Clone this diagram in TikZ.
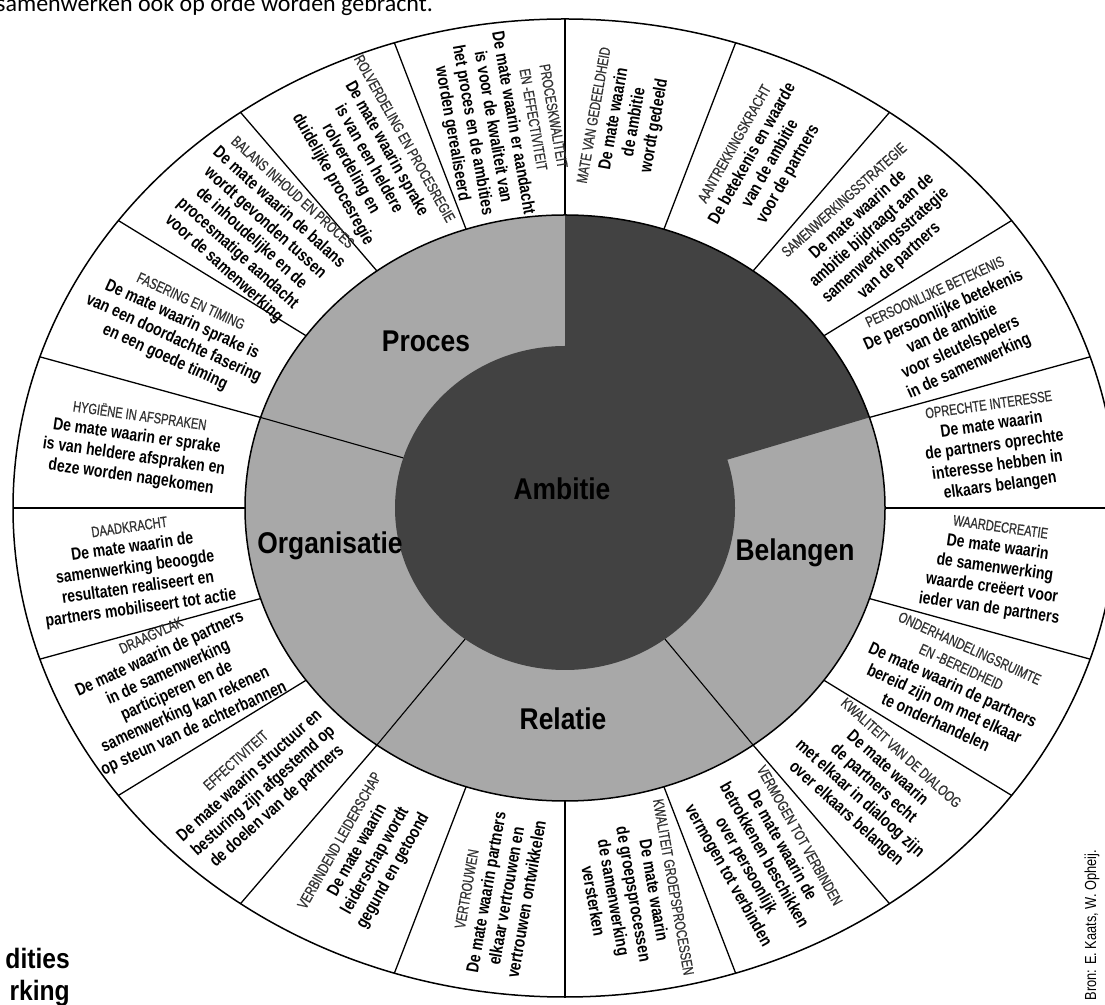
\documentclass[tikz,border=0pt]{standalone}
\usepackage{fontspec}
\setmainfont{Liberation Sans}
\newfontfamily\bodyf{Liberation Sans}[FakeStretch=0.80]
\newfontfamily\headf{Liberation Sans}[FakeStretch=0.74,FakeBold=0.7]
\newfontfamily\bigf{Liberation Sans}[FakeStretch=0.88]
\newfontfamily\carl{Carlito}
\definecolor{darkgrey}{gray}{0.26}
\definecolor{midgrey}{gray}{0.66}
\newcommand\hd[1]{{\headf\mdseries\fontsize{15}{20.5}\selectfont\color{black!80}#1}}
\begin{document}
\begin{tikzpicture}[x=1pt,y=1pt,
  seg/.style={align=center, inner sep=0pt, text=black, font=\bodyf\bfseries\fontsize{17.5}{20.5}\selectfont},
  big/.style={inner sep=0pt, text=black, font=\bigf\bfseries\fontsize{30}{30}\selectfont},
  rim/.style={line width=1.5pt},
  spoke/.style={line width=1.3pt},
  divider/.style={line width=1.1pt}]
\useasboundingbox (0,0) rectangle (1105,1004);
\fill[white] (0,0) rectangle (1105,1004);
% rings
\draw[rim, fill=white] (565,496) ellipse [x radius=552, y radius=489];
\fill[midgrey] (565,496) ellipse [x radius=320, y radius=293];
\fill[darkgrey] (565,496) -- (565,789) arc[start angle=90, end angle=18, x radius=320, y radius=293] -- cycle;
\fill[darkgrey] (565,496) ellipse [x radius=170, y radius=162];
\draw[rim] (565,496) ellipse [x radius=320, y radius=293];
\foreach \a in {90,72,...,-252}
  \draw[spoke] ({565+320*cos(\a)},{496+293*sin(\a)}) -- ({565+552*cos(\a)},{496+489*sin(\a)});
\foreach \a in {162,-126,-54}
  \draw[divider] ({565+170*cos(\a)},{496+162*sin(\a)}) -- ({565+320*cos(\a)},{496+293*sin(\a)});
% segment texts
\node[seg, rotate=80] (s1) at ({565+435*cos(82)},{496+391*sin(82)})
  {\hd{MATE VAN GEDEELDHEID}\\De mate waarin\\de ambitie\\wordt gedeeld};
\node[seg, rotate=60.5] (s2) at ({565+435*cos(63)},{496+391*sin(63)})
  {\hd{AANTREKKINGSKRACHT}\\De betekenis en waarde\\van de ambitie\\voor de partners};
\node[seg, rotate=42] (s3) at ({565+435*cos(45)},{496+391*sin(45)})
  {\hd{SAMENWERKINGSSTRATEGIE}\\De mate waarin de\\ambitie bijdraagt aan de\\samenwerkingsstrategie\\van de partners};
\node[seg, rotate=24.6] (s4) at ({565+435*cos(27)},{496+391*sin(27)})
  {\hd{PERSOONLIJKE BETEKENIS}\\De persoonlijke betekenis\\van de ambitie\\voor sleutelspelers\\in de samenwerking};
\node[seg, rotate=8.1] (s5) at ({565+435*cos(9)},{496+391*sin(9)})
  {\hd{OPRECHTE INTERESSE}\\De mate waarin\\de partners oprechte\\interesse hebben in\\elkaars belangen};
\node[seg, rotate=-8.1] (s6) at ({565+435*cos(-9)},{496+391*sin(-9)})
  {\hd{WAARDECREATIE}\\De mate waarin\\de samenwerking\\waarde creëert voor\\ieder van de partners};
\node[seg, rotate=-24.6] (s7) at ({565+435*cos(-27)},{496+391*sin(-27)})
  {\hd{ONDERHANDELINGSRUIMTE}\\\hd{EN -BEREIDHEID}\\De mate waarin de partners\\bereid zijn om met elkaar\\te onderhandelen};
\node[seg, rotate=-42] (s8) at ({565+435*cos(-45)},{496+391*sin(-45)})
  {\hd{KWALITEIT VAN DE DIALOOG}\\De mate waarin\\de partners echt\\met elkaar in dialoog zijn\\over elkaars belangen};
\node[seg, rotate=-60.5] (s9) at ({565+435*cos(-63)},{496+391*sin(-63)})
  {\hd{VERMOGEN TOT VERBINDEN}\\De mate waarin de\\betrokkenen beschikken\\over persoonlijk\\vermogen tot verbinden};
\node[seg, rotate=-80] (s10) at ({565+435*cos(-81)},{496+391*sin(-81)})
  {\hd{KWALITEIT GROEPSPROCESSEN}\\De mate waarin\\de groepsprocessen\\de samenwerking\\versterken};
\node[seg, rotate=80] (s11) at ({565+435*cos(-99)},{496+391*sin(-99)})
  {\hd{VERTROUWEN}\\De mate waarin partners\\elkaar vertrouwen en\\vertrouwen ontwikkelen};
\node[seg, rotate=60.5] (s12) at ({565+435*cos(-117)},{496+391*sin(-117)})
  {\hd{VERBINDEND LEIDERSCHAP}\\De mate waarin\\leiderschap wordt\\gegund en getoond};
\node[seg, rotate=42] (s13) at ({565+435*cos(-135)},{496+391*sin(-135)})
  {\hd{EFFECTIVITEIT}\\De mate waarin structuur en\\besturing zijn afgestemd op\\de doelen van de partners};
\node[seg, rotate=24.6] (s14) at ({565+438*cos(-153.5)},{496+393*sin(-153.5)})
  {\hd{DRAAGVLAK}\\De mate waarin de partners\\in de samenwerking\\participeren en de\\samenwerking kan rekenen\\op steun van de achterbannen};
\node[seg, rotate=8.1] (s15) at ({565+435*cos(-171)},{496+391*sin(-171)})
  {\hd{DAADKRACHT}\\De mate waarin de\\samenwerking beoogde\\resultaten realiseert en\\partners mobiliseert tot actie};
\node[seg, rotate=-8.1] (s16) at ({565+435*cos(171)},{496+391*sin(171)})
  {\hd{HYGIËNE IN AFSPRAKEN}\\De mate waarin er sprake\\is van heldere afspraken en\\deze worden nagekomen};
\node[seg, rotate=-24.6] (s17) at ({565+435*cos(153)},{496+391*sin(153)})
  {\hd{FASERING EN TIMING}\\De mate waarin sprake is\\van een doordachte fasering\\en een goede timing};
\node[seg, rotate=-42] (s18) at ({565+435*cos(135)},{496+391*sin(135)})
  {\hd{BALANS INHOUD EN PROCES}\\De mate waarin de balans\\wordt gevonden tussen\\de inhoudelijke en de\\procesmatige aandacht\\voor de samenwerking};
\node[seg, rotate=-60.5] (s19) at ({565+435*cos(117)},{496+391*sin(117)})
  {\hd{ROLVERDELING EN PROCESREGIE}\\De mate waarin sprake\\is van een heldere\\rolverdeling en\\duidelijke procesregie};
\node[seg, rotate=-80] (s20) at ({565+430*cos(98.5)},{496+387*sin(98.5)})
  {\hd{PROCESKWALITEIT}\\\hd{EN -EFFECTIVITEIT}\\De mate waarin er aandacht\\is voor de kwaliteit van\\het proces en de ambities\\worden gerealiseerd};
% main labels
\node[big] (proces) at (426,663) {Proces};
\node[big] (organisatie) at (330,458) {Organisatie};
\node[big] (belangen) at (795,451) {Belangen};
\node[big] (relatie) at (563,285) {Relatie};
\node[big] (ambitie) at (562,515) {Ambitie};
% cropped fragments
\node[anchor=base west, inner sep=0pt, font=\carl\fontsize{24}{24}\selectfont] (toptext) at (-4,992) {samenwerken ook op orde worden gebracht.};
\node[anchor=base east, inner sep=0pt, font=\bigf\bfseries\fontsize{28}{28}\selectfont] (title1) at (70,36) {dities};
\node[anchor=base east, inner sep=0pt, font=\bigf\bfseries\fontsize{28}{28}\selectfont] (title2) at (70,4) {rking};
\node[rotate=90, anchor=base east, inner sep=0pt, font=\bodyf\fontsize{16}{16}\selectfont] (source) at (1096,154) {Bron: E. Kaats, W. Opheij.};
\end{tikzpicture}
\end{document}
